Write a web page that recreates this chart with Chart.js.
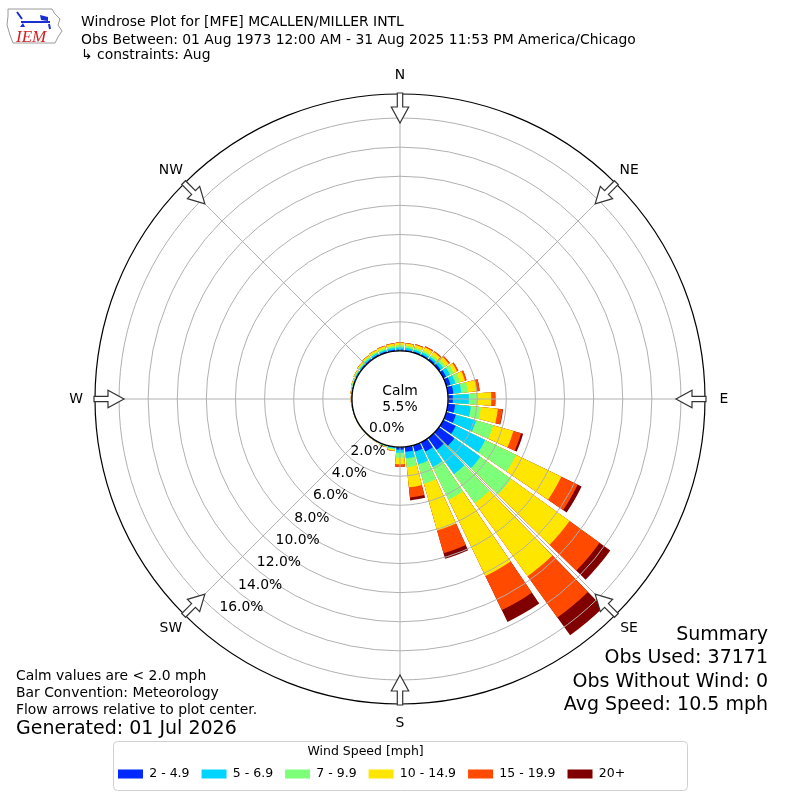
<!DOCTYPE html>
<html>
<head>
<meta charset="utf-8">
<script src="https://cdn.jsdelivr.net/npm/chart.js@4.4.1/dist/chart.umd.min.js"></script>
<style>
html, body { margin: 0; padding: 0; background: #fff; }
#wrap { width: 800px; height: 800px; }
</style>
</head>
<body>
<div id="wrap"><canvas id="windrose" width="800" height="800"></canvas></div>
<script>
// wind directions (degrees, where the wind blows from)
var directions = [0, 10, 20, 30, 40, 50, 60, 70, 80, 90, 100, 110, 120, 130, 140, 150, 160, 170,
                  180, 190, 200, 210, 220, 230, 240, 250, 260, 270, 280, 290, 300, 310, 320, 330, 340, 350];

var speedBins = ['2 - 4.9', '5 - 6.9', '7 - 9.9', '10 - 14.9', '15 - 19.9', '20+'];
var binColors = ['#0029ff', '#00d4ff', '#7dff7a', '#ffe600', '#ff4a00', '#800000'];

// percent of observations per direction, one array per speed bin
var s2to5   = [0.10, 0.09, 0.09, 0.10, 0.12, 0.15, 0.22, 0.30, 0.38, 0.33, 0.50, 0.68, 0.95, 1.30, 1.00, 0.70, 0.45, 0.35,
               0.18, 0.05, 0.03, 0.02, 0.02, 0.02, 0.02, 0.02, 0.02, 0.03, 0.04, 0.05, 0.06, 0.07, 0.08, 0.09, 0.09, 0.10];
var s5to7   = [0.15, 0.14, 0.13, 0.14, 0.15, 0.20, 0.30, 0.35, 0.55, 1.10, 1.09, 1.44, 2.25, 2.20, 2.05, 1.18, 0.91, 0.45,
               0.22, 0.07, 0.04, 0.02, 0.02, 0.01, 0.01, 0.01, 0.02, 0.02, 0.03, 0.05, 0.07, 0.08, 0.10, 0.11, 0.12, 0.13];
var s7to10  = [0.15, 0.14, 0.14, 0.15, 0.15, 0.20, 0.28, 0.32, 0.45, 0.62, 0.69, 1.23, 2.35, 2.60, 2.45, 2.50, 1.38, 0.60,
               0.34, 0.07, 0.04, 0.02, 0.01, 0.01, 0.01, 0.01, 0.01, 0.02, 0.03, 0.04, 0.06, 0.08, 0.10, 0.11, 0.12, 0.13];
var s10to15 = [0.17, 0.17, 0.20, 0.25, 0.25, 0.27, 0.25, 0.36, 0.62, 0.92, 1.17, 1.44, 3.45, 4.95, 6.20, 5.82, 3.34, 1.40,
               0.44, 0.08, 0.03, 0.02, 0.01, 0.01, 0.01, 0.01, 0.01, 0.01, 0.02, 0.04, 0.05, 0.08, 0.10, 0.12, 0.14, 0.16];
var s15to20 = [0.03, 0.03, 0.05, 0.08, 0.08, 0.10, 0.10, 0.12, 0.19, 0.27, 0.33, 0.55, 1.25, 2.55, 3.50, 2.60, 1.62, 0.70,
               0.17, 0.03, 0.01, 0.00, 0.00, 0.00, 0.00, 0.00, 0.00, 0.00, 0.00, 0.00, 0.01, 0.01, 0.02, 0.02, 0.03, 0.03];
var s20up   = [0.00, 0.00, 0.00, 0.00, 0.00, 0.00, 0.00, 0.00, 0.01, 0.02, 0.03, 0.15, 0.30, 0.90, 1.50, 0.90, 0.40, 0.20,
               0.00, 0.00, 0.00, 0.00, 0.00, 0.00, 0.00, 0.00, 0.00, 0.00, 0.00, 0.00, 0.00, 0.00, 0.00, 0.00, 0.00, 0.00];

var calmPct = 5.5;
var ringTicks = [0, 2, 4, 6, 8, 10, 12, 14, 16];
var rMin = -3.3, rMax = 17.65;
var compass = ['N', 'NE', 'E', 'SE', 'S', 'SW', 'W', 'NW'];

var titleLines = ['Windrose Plot for [MFE] MCALLEN/MILLER INTL',
                  'Obs Between: 01 Aug 1973 12:00 AM - 31 Aug 2025 11:53 PM America/Chicago',
                  '\u21b3 constraints: Aug'];
var notes = ['Calm values are < 2.0 mph', 'Bar Convention: Meteorology', 'Flow arrows relative to plot center.'];
var generated = 'Generated: 01 Jul 2026';
var summary = ['Summary', 'Obs Used: 37171', 'Obs Without Wind: 0', 'Avg Speed: 10.5 mph'];

var barWidth = 8.5;   // degrees of each 10 degree sector filled by the bar
var FONT = '"DejaVu Sans", sans-serif';

function drawArrow(ctx, cx, cy, bearing, rTail, rTip)
{
    var headBase = rTip + 16;
    ctx.save();
    ctx.translate(cx, cy);
    ctx.rotate(bearing * Math.PI / 180);
    ctx.beginPath();
    ctx.moveTo(-2.7, -rTail);
    ctx.lineTo(2.7, -rTail);
    ctx.lineTo(2.7, -headBase);
    ctx.lineTo(8.7, -headBase);
    ctx.lineTo(0, -rTip);
    ctx.lineTo(-8.7, -headBase);
    ctx.lineTo(-2.7, -headBase);
    ctx.closePath();
    ctx.fillStyle = '#fff';
    ctx.fill();
    ctx.strokeStyle = '#333';
    ctx.lineWidth = 1.2;
    ctx.stroke();
    ctx.restore();
}

function drawLogo(ctx)
{
    ctx.save();
    ctx.strokeStyle = '#9a9a9a';
    ctx.lineWidth = 1;
    ctx.beginPath();
    ctx.moveTo(8, 9);
    ctx.lineTo(52, 9);
    ctx.lineTo(55, 14);
    ctx.lineTo(60, 19);
    ctx.lineTo(58, 25);
    ctx.lineTo(62, 31);
    ctx.lineTo(58, 37);
    ctx.lineTo(55, 43);
    ctx.lineTo(13, 43);
    ctx.lineTo(10, 35);
    ctx.lineTo(7, 25);
    ctx.lineTo(8, 16);
    ctx.closePath();
    ctx.stroke();
    ctx.strokeStyle = '#1a2fd0';
    ctx.fillStyle = '#1a2fd0';
    ctx.lineWidth = 2;
    ctx.beginPath();
    ctx.moveTo(21, 22);
    ctx.lineTo(50, 22);
    ctx.moveTo(17, 12);
    ctx.lineTo(22, 19);
    ctx.moveTo(49, 24);
    ctx.lineTo(50, 29);
    ctx.stroke();
    ctx.beginPath();
    ctx.moveTo(40, 15);
    ctx.lineTo(48, 17);
    ctx.lineTo(48, 21);
    ctx.lineTo(41, 20);
    ctx.closePath();
    ctx.fill();
    ctx.beginPath();
    ctx.moveTo(20, 27);
    ctx.lineTo(23, 23);
    ctx.lineTo(25, 27);
    ctx.closePath();
    ctx.fill();
    ctx.font = 'italic 17px "Liberation Serif", serif';
    ctx.fillStyle = '#d42020';
    ctx.textAlign = 'left';
    ctx.textBaseline = 'alphabetic';
    ctx.fillText('IEM', 16, 42);
    ctx.restore();
}

var decorPlugin =
{
    id: 'decor',
    afterLayout: function(chart)
    {
        // matplotlib puts the legend rows a little right of the axes centre
        chart.legend.left += 11;
        chart.legend.right += 11;
    },
    afterDraw: function(chart)
    {
        var ctx = chart.ctx;
        var sc = chart.scales.r;
        var cx = sc.xCenter, cy = sc.yCenter;
        var r0 = sc.getDistanceFromCenterForValue(0);
        var rOut = sc.drawingArea;
        var i, a;

        ctx.save();

        // spokes
        ctx.strokeStyle = '#b0b0b0';
        ctx.lineWidth = 1;
        for (i = 0; i < compass.length; i++)
        {
            a = i * 45 * Math.PI / 180;
            ctx.beginPath();
            ctx.moveTo(cx + r0 * Math.sin(a), cy - r0 * Math.cos(a));
            ctx.lineTo(cx + rOut * Math.sin(a), cy - rOut * Math.cos(a));
            ctx.stroke();
        }

        // calm circle
        ctx.beginPath();
        ctx.arc(cx, cy, r0, 0, 2 * Math.PI);
        ctx.fillStyle = '#fff';
        ctx.fill();
        ctx.strokeStyle = '#000';
        ctx.lineWidth = 1.3;
        ctx.stroke();

        ctx.fillStyle = '#000';
        ctx.font = '13.9px ' + FONT;
        ctx.textAlign = 'center';
        ctx.textBaseline = 'middle';
        ctx.fillText('Calm', cx, cy - 8);
        ctx.fillText(calmPct.toFixed(1) + '%', cx, cy + 8.5);

        // flow arrows and compass names
        for (i = 0; i < compass.length; i++)
        {
            drawArrow(ctx, cx, cy, i * 45, rOut + 1, rOut - 29);
            a = i * 45 * Math.PI / 180;
            ctx.fillStyle = '#000';
            ctx.fillText(compass[i], cx + (rOut + 19) * Math.sin(a), cy - (rOut + 19) * Math.cos(a));
        }

        // ring labels along the 220 degree radial
        a = 220 * Math.PI / 180;
        ctx.textAlign = 'left';
        ringTicks.forEach(function(v)
        {
            var rr = sc.getDistanceFromCenterForValue(v);
            ctx.fillText(v.toFixed(1) + '%', cx + rr * Math.sin(a), cy - rr * Math.cos(a) - 7);
        });

        // header
        drawLogo(ctx);
        ctx.fillStyle = '#000';
        ctx.textAlign = 'left';
        ctx.textBaseline = 'alphabetic';
        ctx.font = '13.9px ' + FONT;
        ctx.fillText(titleLines[0], 81, 26);
        ctx.fillText(titleLines[1], 81, 43.5);
        ctx.fillText(titleLines[2], 81, 59);

        // notes, bottom left
        ctx.textBaseline = 'middle';
        for (i = 0; i < notes.length; i++)
        {
            ctx.fillText(notes[i], 16, 676 + i * 17);
        }
        ctx.font = '19px ' + FONT;
        ctx.fillText(generated, 16, 729);

        // summary, bottom right
        ctx.textAlign = 'right';
        for (i = 0; i < summary.length; i++)
        {
            ctx.fillText(summary[i], 768, 635 + i * 23.5);
        }

        // legend frame
        var lg = chart.legend;
        ctx.strokeStyle = '#d0d0d0';
        ctx.lineWidth = 1;
        ctx.beginPath();
        ctx.roundRect(cx - 287 + 0.5, lg.top + 37.5, 574, 49, 4);
        ctx.stroke();

        ctx.restore();
    }
};

window.onload = function()
{
    var ctx = document.getElementById('windrose').getContext('2d');

    Chart.defaults.font.family = FONT;
    Chart.defaults.color = '#000';

    // stacked bars: each dataset holds the running total, drawn smallest on top
    var series = [s2to5, s5to7, s7to10, s10to15, s15to20, s20up];
    var running = directions.map(function() { return 0; });
    var labels = [];
    directions.forEach(function(d)
    {
        labels.push(d + '\u00b0');
        labels.push('');
    });

    var datasets = series.map(function(values, k)
    {
        var data = [];
        for (var i = 0; i < directions.length; i++)
        {
            running[i] += values[i];
            data.push(running[i]);
            data.push(null);   // the white gap between sectors
        }
        return {
            label: speedBins[k],
            data: data,
            backgroundColor: binColors[k],
            borderWidth: 0,
            angle: function(c)
            {
                return c.dataIndex % 2 === 0 ? barWidth : 10 - barWidth;
            }
        };
    });

    var chart = new Chart(ctx,
    {
        type: 'polarArea',
        data:
        {
            labels: labels,
            datasets: datasets
        },
        options:
        {
            responsive: false,
            animation: false,
            events: [],
            layout: { padding: { left: 95, right: 95, top: 94, bottom: 9.75 } },
            scales:
            {
                r:
                {
                    min: rMin,
                    max: rMax,
                    startAngle: -barWidth / 2,
                    afterBuildTicks: function(scale)
                    {
                        scale.ticks = ringTicks.map(function(v) { return { value: v }; });
                        scale.ticks.push({ value: rMax });
                    },
                    ticks: { display: false },
                    grid:
                    {
                        z: 1,
                        circular: true,
                        color: function(c) { return c.tick && c.tick.value === rMax ? '#000' : '#b0b0b0'; },
                        lineWidth: function(c) { return c.tick && c.tick.value === rMax ? 1.2 : 1; }
                    },
                    angleLines: { display: false },
                    pointLabels: { display: false }
                }
            },
            plugins:
            {
                tooltip: { enabled: false },
                legend:
                {
                    position: 'bottom',
                    align: 'start',
                    title:
                    {
                        display: true,
                        text: 'Wind Speed [mph]',
                        color: '#000',
                        font: { size: 12.5, lineHeight: 1 },
                        padding: { top: 41.75, bottom: -2.5 }
                    },
                    labels:
                    {
                        boxWidth: 25,
                        boxHeight: 9,
                        padding: 12,
                        color: '#000',
                        font: { size: 12.5 },
                        generateLabels: function(ch)
                        {
                            return ch.data.datasets.map(function(ds, i)
                            {
                                return {
                                    text: ds.label,
                                    fillStyle: ds.backgroundColor,
                                    strokeStyle: ds.backgroundColor,
                                    lineWidth: 0,
                                    hidden: false,
                                    datasetIndex: i
                                };
                            });
                        }
                    }
                }
            }
        },
        plugins: [decorPlugin]
    });
};
</script>
</body>
</html>
